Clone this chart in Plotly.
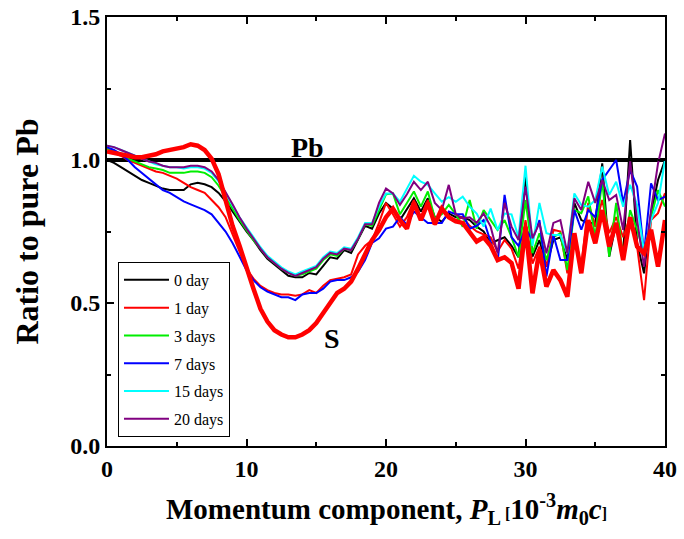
import plotly.graph_objects as go

# Momentum component P_L [10^-3 m0c], step 0.5
p_l = [i * 0.5 for i in range(81)]

day0 = [1.00, 0.99, 0.975, 0.96, 0.945, 0.93, 0.92, 0.91, 0.90, 0.895,
        0.895, 0.895, 0.915, 0.92, 0.915, 0.905, 0.885, 0.855, 0.82, 0.785,
        0.75, 0.72, 0.685, 0.655, 0.635, 0.615, 0.595, 0.59, 0.59, 0.605,
        0.60, 0.63, 0.66, 0.655, 0.685, 0.675, 0.72, 0.77, 0.76, 0.813,
        0.85, 0.83, 0.79, 0.83, 0.866, 0.82, 0.866, 0.80, 0.784, 0.813,
        0.80, 0.80, 0.79, 0.767, 0.75, 0.709, 0.72, 0.73, 0.70, 0.66,
        0.94, 0.662, 0.72, 0.627, 0.72, 0.73, 0.65, 0.85, 0.79, 0.78,
        0.78, 0.988, 0.662, 0.78, 0.674, 1.07, 0.709, 0.604, 0.814, 0.93,
        1.00]

day1 = [1.03, 1.025, 1.015, 1.00, 0.99, 0.98, 0.97, 0.96, 0.955, 0.945,
        0.935, 0.92, 0.905, 0.895, 0.885, 0.86, 0.835, 0.80, 0.74, 0.675,
        0.62, 0.585, 0.56, 0.545, 0.535, 0.53, 0.53, 0.525, 0.53, 0.545,
        0.535, 0.56, 0.58, 0.585, 0.59, 0.60, 0.67, 0.70, 0.72, 0.78,
        0.85, 0.81, 0.767, 0.80, 0.86, 0.796, 0.86, 0.773, 0.837, 0.80,
        0.79, 0.80, 0.77, 0.75, 0.74, 0.73, 0.68, 0.72, 0.69, 0.62,
        0.79, 0.638, 0.697, 0.627, 0.756, 0.75, 0.604, 0.744, 0.627, 0.85,
        0.767, 0.86, 0.744, 0.80, 0.73, 0.80, 0.697, 0.51, 0.79, 0.814,
        0.884]

day3 = [1.04, 1.03, 1.02, 1.005, 0.995, 0.985, 0.975, 0.97, 0.965, 0.955,
        0.955, 0.955, 0.96, 0.96, 0.955, 0.94, 0.91, 0.87, 0.83, 0.79,
        0.755, 0.72, 0.69, 0.66, 0.64, 0.62, 0.605, 0.595, 0.60, 0.61,
        0.62, 0.65, 0.67, 0.665, 0.69, 0.685, 0.725, 0.775, 0.77, 0.825,
        0.88, 0.883, 0.81, 0.85, 0.89, 0.837, 0.89, 0.796, 0.81, 0.843,
        0.81, 0.767, 0.86, 0.76, 0.825, 0.79, 0.755, 0.79, 0.73, 0.66,
        0.86, 0.674, 0.744, 0.65, 0.73, 0.744, 0.615, 0.825, 0.814, 0.873,
        0.73, 0.93, 0.662, 0.85, 0.662, 0.825, 0.756, 0.674, 0.80, 0.895,
        0.837]

day7 = [1.045, 1.035, 1.02, 1.00, 0.975, 0.955, 0.935, 0.915, 0.895, 0.885,
        0.87, 0.855, 0.845, 0.835, 0.825, 0.81, 0.78, 0.75, 0.71, 0.665,
        0.615, 0.58, 0.555, 0.54, 0.53, 0.52, 0.52, 0.51, 0.53, 0.535,
        0.535, 0.55, 0.575, 0.58, 0.58, 0.59, 0.61, 0.65, 0.71, 0.726,
        0.76, 0.767, 0.80, 0.773, 0.82, 0.80, 0.78, 0.78, 0.78, 0.82,
        0.81, 0.81, 0.76, 0.77, 0.79, 0.714, 0.644, 0.878, 0.73, 0.70,
        0.76, 0.72, 0.79, 0.592, 0.738, 0.65, 0.65, 0.825, 0.756, 0.825,
        0.80, 0.93, 0.965, 1.00, 0.85, 0.965, 0.907, 0.674, 0.918, 0.86,
        0.872]

day15 = [1.05, 1.045, 1.035, 1.025, 1.015, 1.005, 0.995, 0.985, 0.98, 0.975,
         0.975, 0.97, 0.975, 0.975, 0.97, 0.955, 0.925, 0.885, 0.84, 0.80,
         0.765, 0.73, 0.695, 0.665, 0.645, 0.625, 0.61, 0.60, 0.61, 0.62,
         0.63, 0.66, 0.68, 0.675, 0.695, 0.69, 0.73, 0.78, 0.78, 0.837,
         0.883, 0.883, 0.854, 0.90, 0.945, 0.924, 0.913, 0.883, 0.854, 0.87,
         0.854, 0.872, 0.837, 0.813, 0.767, 0.83, 0.755, 0.813, 0.81, 0.73,
         0.98, 0.70, 0.85, 0.744, 0.738, 0.738, 0.674, 0.883, 0.843, 0.837,
         0.86, 0.977, 0.878, 0.924, 0.837, 0.913, 0.843, 0.68, 0.79, 0.85,
         1.00]

day20 = [1.05, 1.045, 1.035, 1.025, 1.015, 1.005, 0.995, 0.99, 0.98, 0.975,
         0.975, 0.975, 0.98, 0.98, 0.975, 0.96, 0.93, 0.89, 0.845, 0.80,
         0.76, 0.725, 0.69, 0.66, 0.64, 0.62, 0.605, 0.595, 0.605, 0.615,
         0.625, 0.655, 0.675, 0.67, 0.69, 0.685, 0.725, 0.775, 0.775, 0.85,
         0.90, 0.883, 0.843, 0.88, 0.924, 0.895, 0.924, 0.85, 0.825, 0.913,
         0.81, 0.796, 0.80, 0.78, 0.813, 0.767, 0.674, 0.85, 0.767, 0.72,
         0.907, 0.726, 0.78, 0.674, 0.78, 0.79, 0.674, 0.866, 0.825, 0.924,
         0.85, 0.93, 0.86, 0.878, 0.756, 0.995, 0.79, 0.627, 0.825, 0.988,
         1.093]

sulfur = [1.03, 1.025, 1.02, 1.015, 1.01, 1.01, 1.015, 1.02, 1.03, 1.035,
          1.04, 1.045, 1.055, 1.05, 1.035, 1.005, 0.95, 0.86, 0.77, 0.70,
          0.62, 0.55, 0.48, 0.435, 0.405, 0.39, 0.38, 0.38, 0.39, 0.405,
          0.43, 0.465, 0.505, 0.535, 0.55, 0.575, 0.62, 0.67, 0.72, 0.755,
          0.80, 0.83, 0.79, 0.76, 0.85, 0.79, 0.85, 0.775, 0.83, 0.80,
          0.785, 0.78, 0.745, 0.715, 0.73, 0.70, 0.65, 0.66, 0.64, 0.55,
          0.767, 0.534, 0.686, 0.557, 0.615, 0.58, 0.522, 0.744, 0.604, 0.79,
          0.709, 0.825, 0.697, 0.78, 0.65, 0.80, 0.697, 0.674, 0.756, 0.627,
          0.79]

pb_x = [0, 40]
pb_y = [1.0, 1.0]

series_names = ["0 day", "1 day", "3 days", "7 days", "15 days", "20 days"]
series_vals = [day0, day1, day3, day7, day15, day20]
series_colors = ["#000000", "#ff0000", "#00ee00", "#0000ff", "#00ffff", "#800080"]

FONT = "Liberation Serif"

fig = go.Figure()

fig.add_trace(go.Scatter(x=pb_x, y=pb_y, mode="lines",
                         line=dict(color="black", width=4),
                         showlegend=False, hoverinfo="skip"))

for name, vals, col in zip(series_names, series_vals, series_colors):
    fig.add_trace(go.Scatter(x=p_l, y=vals, mode="lines", name=name,
                             legendgroup=name,
                             line=dict(color=col, width=2)))

fig.add_trace(go.Scatter(x=p_l, y=sulfur, mode="lines", name="S",
                         line=dict(color="#ff0000", width=4.5),
                         showlegend=False))

fig.add_annotation(x=14.4, y=1.045, text="<b>Pb</b>", showarrow=False,
                   font=dict(family=FONT, size=28, color="black"))
fig.add_annotation(x=16.1, y=0.375, text="<b>S</b>", showarrow=False,
                   font=dict(family=FONT, size=28, color="black"))

xtitle = ("<b>Momentum component, <i>P</i><sub>L</sub>"
          "<span style='font-size:16px'> [</span>10<sup>-3</sup>"
          "<i>m</i><sub>0</sub><i>c</i><span style='font-size:16px'>]</span></b>")

fig.add_annotation(xref="paper", yref="paper", x=0.5, y=-0.148,
                   xanchor="center", yanchor="middle", showarrow=False,
                   text=xtitle, font=dict(family=FONT, size=29, color="black"))
fig.add_annotation(xref="paper", yref="paper", x=-0.145, y=0.5,
                   xanchor="center", yanchor="middle", showarrow=False,
                   textangle=-90, text="<b>Ratio to pure Pb</b>",
                   font=dict(family=FONT, size=32, color="black"))

fig.update_layout(
    width=684, height=539,
    margin=dict(l=107, r=19, t=17, b=93),
    paper_bgcolor="white", plot_bgcolor="white",
    font=dict(family=FONT, color="black"),
    legend=dict(x=0.0197, y=0.429, xanchor="left", yanchor="top",
                bgcolor="white", bordercolor="black", borderwidth=1,
                font=dict(family=FONT, size=16, color="black"),
                itemwidth=45,
                tracegroupgap=4, traceorder="grouped"),
    xaxis=dict(range=[0, 40], tickvals=[0, 10, 20, 30, 40], automargin=False,
               ticks="inside", ticklen=7, tickwidth=2, tickcolor="black",
               minor=dict(dtick=5, ticks="inside", ticklen=4, tickwidth=2, tickcolor="black"),
               showline=True, linewidth=2, linecolor="black", mirror="ticks",
               showgrid=False, zeroline=False,
               tickfont=dict(family=FONT, size=24, color="black", weight="bold")),
    yaxis=dict(range=[0, 1.5], tickvals=[0, 0.5, 1.0, 1.5], tickformat=".1f",
               automargin=False,
               ticks="inside", ticklen=7, tickwidth=2, tickcolor="black",
               minor=dict(dtick=0.25, ticks="inside", ticklen=4, tickwidth=2, tickcolor="black"),
               showline=True, linewidth=2, linecolor="black", mirror="ticks",
               showgrid=False, zeroline=False,
               tickfont=dict(family=FONT, size=24, color="black", weight="bold")),
)

fig.write_html("out.html", config={"displayModeBar": False},
               post_script="document.body.style.margin='0px';")
